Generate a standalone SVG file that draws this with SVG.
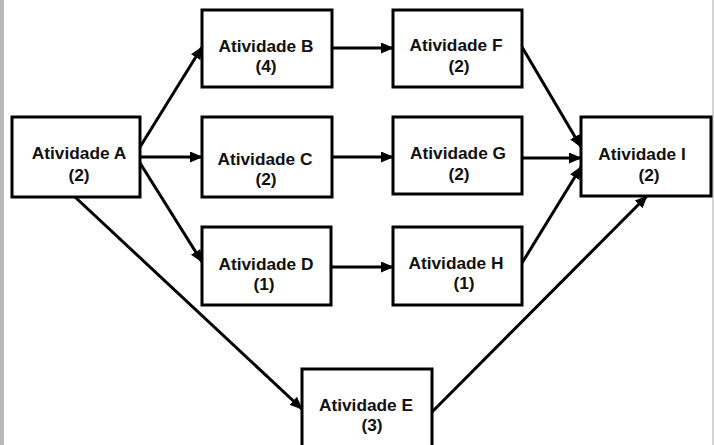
<svg xmlns="http://www.w3.org/2000/svg" width="714" height="445" viewBox="0 0 714 445">
<style>
.box{fill:#fff;stroke:#000;stroke-width:3}
.t{font-family:"Liberation Sans",Arial,sans-serif;font-weight:bold;font-size:17.3px;fill:#111;text-anchor:middle}
.c{stroke:#000;stroke-width:3;fill:none;marker-end:url(#ah)}
</style>
<defs>
<marker id="ah" markerWidth="13" markerHeight="11" refX="12" refY="5.5" orient="auto" markerUnits="userSpaceOnUse">
<path d="M0,0 L13,5.5 L0,11 Z" fill="#000"/>
</marker>
</defs>
<rect x="0" y="0" width="714" height="445" fill="#fff"/>
<rect x="0" y="0" width="4" height="445" fill="#b8b8bc"/>
<rect x="712" y="0" width="2" height="445" fill="#d4d4d4"/>
<g id="connectors">
<line class="c" x1="140" y1="147" x2="202" y2="47"/>
<line class="c" x1="140" y1="157" x2="202" y2="157"/>
<line class="c" x1="140" y1="163" x2="202" y2="262"/>
<line class="c" x1="75" y1="197" x2="302" y2="409"/>
<line class="c" x1="332" y1="48" x2="393" y2="48"/>
<line class="c" x1="332" y1="157" x2="393" y2="157"/>
<line class="c" x1="331" y1="267" x2="393" y2="267"/>
<line class="c" x1="522" y1="47" x2="581" y2="147"/>
<line class="c" x1="522" y1="158" x2="581" y2="158"/>
<line class="c" x1="522" y1="263" x2="581" y2="167"/>
<line class="c" x1="432" y1="412" x2="647" y2="196"/>
</g>
<g id="nodeA"><rect class="box" x="12" y="117" width="128" height="80"/><text class="t" x="79" y="159">Atividade A</text><text class="t" x="79" y="181">(2)</text></g>
<g id="nodeB"><rect class="box" x="202" y="10" width="130" height="77"/><text class="t" x="266" y="52">Atividade B</text><text class="t" x="266" y="72">(4)</text></g>
<g id="nodeC"><rect class="box" x="202" y="117" width="130" height="80"/><text class="t" x="265" y="165">Atividade C</text><text class="t" x="266" y="185">(2)</text></g>
<g id="nodeD"><rect class="box" x="202" y="227" width="129" height="78"/><text class="t" x="266" y="270">Atividade D</text><text class="t" x="264" y="290">(1)</text></g>
<g id="nodeE"><rect class="box" x="302" y="369" width="130" height="80"/><text class="t" x="366" y="411">Atividade E</text><text class="t" x="372" y="431">(3)</text></g>
<g id="nodeF"><rect class="box" x="393" y="10" width="129" height="77"/><text class="t" x="456" y="51">Atividade F</text><text class="t" x="459" y="72">(2)</text></g>
<g id="nodeG"><rect class="box" x="393" y="117" width="129" height="77"/><text class="t" x="458" y="159">Atividade G</text><text class="t" x="459" y="180">(2)</text></g>
<g id="nodeH"><rect class="box" x="393" y="227" width="129" height="78"/><text class="t" x="456" y="269">Atividade H</text><text class="t" x="464" y="289">(1)</text></g>
<g id="nodeI"><rect class="box" x="581" y="117" width="130" height="79"/><text class="t" x="642" y="160">Atividade I</text><text class="t" x="649" y="181">(2)</text></g>
</svg>
